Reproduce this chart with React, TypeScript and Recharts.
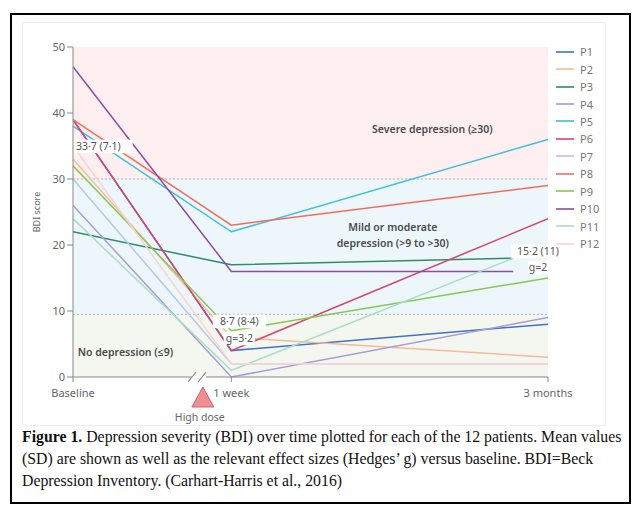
import React from 'react';
import {
  LineChart,
  Line,
  XAxis,
  YAxis,
  ReferenceArea,
  ReferenceLine,
  ReferenceDot,
  Legend,
} from 'recharts';

const patients = ['P1', 'P2', 'P3', 'P4', 'P5', 'P6', 'P7', 'P8', 'P9', 'P10', 'P11', 'P12'];
const patientColors = [
  '#3f72c9', '#f6b99e', '#2f8c6f', '#a79cd8', '#3cbfda', '#d8436f',
  '#b9c6ec', '#f36c5d', '#88c852', '#8b4d9f', '#acdcca', '#fbd2d2',
];
const baselineScores = [39, 33, 22, 26, 38, 39, 30, 39, 32, 47, 24, 35];
const weekScores = [4, 6, 17, 0, 22, 4, 2, 23, 7, 16, 1, 2];
const monthScores = [8, 3, 18, 9, 36, 24, 2, 29, 15, 16, 18, 2];
const lastVisitTimes = [3, 3, 2.78, 3, 3, 3, 3, 3, 3, 2.78, 2.78, 3];

const timeTicks = [0, 1, 3];
const timeLabels = ['Baseline', '1 week', '3 months'];
const bdiTicks = [0, 10, 20, 30, 40, 50];
const severeCut = 30;
const mildCut = 9.5;

const series = patients.map((name, i) => ({
  name,
  color: patientColors[i],
  data: [
    { t: 0, v: baselineScores[i] },
    { t: 1, v: weekScores[i] },
    { t: lastVisitTimes[i], v: monthScores[i] },
  ],
}));

const FONT = '"Noto Sans", "Open Sans", sans-serif';

const textShape = (
  lines: string[],
  opts: { dx?: number; dy?: number; anchor?: string; bg?: boolean; weight?: number; size?: number; color?: string; lh?: number } = {}
) => (props: any) => {
  const { cx, cy } = props;
  const dx = opts.dx ?? 0;
  const dy = opts.dy ?? 0;
  const size = opts.size ?? 10.5;
  const lh = opts.lh ?? 16;
  return (
    <g>
      {opts.bg &&
        lines.map((l, k) => {
          const w = l.length * size * 0.52 + 4;
          const x0 = opts.anchor === 'start' ? cx + dx - 2 : cx + dx - w / 2;
          return <rect key={'r' + k} x={x0} y={cy + dy + k * lh - size * 0.75} width={w} height={size + 3} fill="#fff" />;
        })}
      {lines.map((l, k) => (
        <text
          key={k}
          x={cx + dx}
          y={cy + dy + k * lh}
          textAnchor={(opts.anchor as any) ?? 'middle'}
          dominantBaseline="middle"
          fontFamily={FONT}
          fontSize={size}
          fontWeight={opts.weight ?? 400}
          fill={opts.color ?? '#555'}
        >
          {l}
        </text>
      ))}
    </g>
  );
};

const breakShape = (props: any) => {
  const { cx, cy } = props;
  return (
    <g>
      <rect x={cx - 7} y={cy - 2} width={14} height={4} fill="#fff" />
      <line x1={cx - 11} y1={cy + 5} x2={cx - 3} y2={cy - 5} stroke="#888" strokeWidth={1.2} />
      <line x1={cx - 1} y1={cy + 5} x2={cx + 7} y2={cy - 5} stroke="#888" strokeWidth={1.2} />
    </g>
  );
};

const doseShape = (props: any) => {
  const { cx, cy } = props;
  return (
    <g>
      <polygon
        points={`${cx},${cy + 10} ${cx - 11},${cy + 30} ${cx + 11},${cy + 30}`}
        fill="#f08f93"
        stroke="#c9646a"
        strokeWidth={1}
      />
      <text x={cx - 3} y={cy + 41} textAnchor="middle" dominantBaseline="middle" fontFamily={FONT} fontSize={10.5} fill="#666">
        High dose
      </text>
    </g>
  );
};

const LegendContent = () => (
  <div style={{ fontFamily: FONT, fontSize: 11, color: '#777', width: 60 }}>
    {series.map((s) => (
      <div key={s.name} style={{ height: 17.45, display: 'flex', alignItems: 'center', whiteSpace: 'nowrap' }}>
        <svg width={24} height={4} style={{ marginLeft: 3, flexShrink: 0, display: 'block' }}>
          <line x1={0} y1={2} x2={18} y2={2} stroke={s.color} strokeWidth={1.6} />
        </svg>
        <span>{s.name}</span>
      </div>
    ))}
  </div>
);

const XTick = (props: any) => {
  const { x, y, payload } = props;
  return (
    <text x={x} y={y + 10} textAnchor="middle" dominantBaseline="middle" fontFamily={FONT} fontSize={11} fill="#666">
      {timeLabels[timeTicks.indexOf(payload.value)]}
    </text>
  );
};

export default function App() {
  return (
    <div style={{ position: 'absolute', left: 0, top: 0, width: 639, height: 506, background: '#fff', overflow: 'hidden' }}>
      <div
        style={{
          position: 'absolute', left: 10, top: 13, width: 621, height: 491,
          border: '2px solid #000', boxSizing: 'border-box',
        }}
      />
      <div
        style={{
          position: 'absolute', left: 22, top: 22, width: 584, height: 404,
          border: '1px solid #eeeeee', boxSizing: 'border-box',
        }}
      />
      <div style={{ position: 'absolute', left: 0, top: 0 }}>
        <LineChart width={639} height={440} margin={{ top: 47, right: 91, bottom: 33, left: 33 }}>
          <ReferenceArea x1={0} x2={3} y1={severeCut} y2={50} fill="#fdefef" fillOpacity={1} stroke="none" />
          <ReferenceArea x1={0} x2={3} y1={mildCut} y2={severeCut} fill="#ecf6fb" fillOpacity={1} stroke="none" />
          <ReferenceArea x1={0} x2={3} y1={0} y2={mildCut} fill="#f4f7ef" fillOpacity={1} stroke="none" />
          <ReferenceLine y={severeCut} stroke="#a3b0c2" strokeDasharray="2 2" strokeWidth={1} />
          <ReferenceLine y={mildCut} stroke="#a3b0c2" strokeDasharray="2 2" strokeWidth={1} />
          <XAxis
            type="number"
            dataKey="t"
            domain={[0, 3]}
            ticks={timeTicks}
            axisLine={{ stroke: '#888' }}
            tickLine={{ stroke: '#888' }}
            tickSize={5}
            tick={<XTick />}
            height={30}
            allowDataOverflow
          />
          <YAxis
            type="number"
            domain={[0, 50]}
            ticks={bdiTicks}
            width={40}
            axisLine={{ stroke: '#888' }}
            tickLine={{ stroke: '#888' }}
            tickSize={6}
            tick={{ fill: '#666', fontSize: 11, fontFamily: FONT }}
            label={{
              content: () => (
                <text x={38} y={212} transform="rotate(-90 38 212)" textAnchor="middle" dominantBaseline="middle" fontFamily={FONT} fontSize={9} fill="#666">
                  BDI score
                </text>
              ),
            }}
          />
          {series.map((s) => (
            <Line
              key={s.name}
              data={s.data}
              dataKey="v"
              name={s.name}
              type="linear"
              stroke={s.color}
              strokeWidth={1.5}
              dot={false}
              activeDot={false}
              isAnimationActive={false}
            />
          ))}
          <ReferenceDot x={0} y={33.7} ifOverflow="visible" shape={textShape(['33·7 (7·1)'], { dx: 3, dy: -7, anchor: 'start', bg: true, size: 10.5 })} />
          <ReferenceDot x={1} y={8.7} ifOverflow="visible" shape={textShape(['8·7 (8·4)', 'g=3·2'], { dx: 8, dy: 3, bg: true, size: 10.5, lh: 17 })} />
          <ReferenceDot x={3} y={15.2} ifOverflow="visible" shape={textShape(['15·2 (11)', 'g=2'], { dx: -10, dy: -24, bg: true, size: 10.5, lh: 16 })} />
          <ReferenceDot x={2.27} y={37.4} ifOverflow="visible" shape={textShape(['Severe depression (≥30)'], { weight: 600, color: '#4a4a4a' })} />
          <ReferenceDot x={2.02} y={22.6} ifOverflow="visible" shape={textShape(['Mild or moderate', 'depression (>9 to >30)'], { weight: 600, color: '#4a4a4a', lh: 16 })} />
          <ReferenceDot x={0.03} y={3.6} ifOverflow="visible" shape={textShape(['No depression (≤9)'], { anchor: 'start', weight: 600, color: '#4a4a4a' })} />
          <ReferenceDot x={0.796} y={0} ifOverflow="visible" shape={breakShape} />
          <ReferenceDot x={0.82} y={0} ifOverflow="visible" shape={doseShape} />
          <Legend
            layout="vertical"
            align="right"
            verticalAlign="top"
            content={<LegendContent />}
            wrapperStyle={{ position: 'absolute', top: 43, left: 553, right: 'auto', width: 0, height: 0, overflow: 'visible' }}
          />
        </LineChart>
      </div>
      <div
        style={{
          position: 'absolute', left: 22, top: 426, width: 605,
          fontFamily: '"Liberation Serif", "Times New Roman", serif', fontSize: 15.8, lineHeight: '22px', color: '#111',
          whiteSpace: 'nowrap',
        }}
      >
        <div><b>Figure 1.</b> Depression severity (BDI) over time plotted for each of the 12 patients. Mean values</div>
        <div>(SD) are shown as well as the relevant effect sizes (Hedges’ g) versus baseline. BDI=Beck</div>
        <div>Depression Inventory. (Carhart-Harris et al., 2016)</div>
      </div>
    </div>
  );
}
